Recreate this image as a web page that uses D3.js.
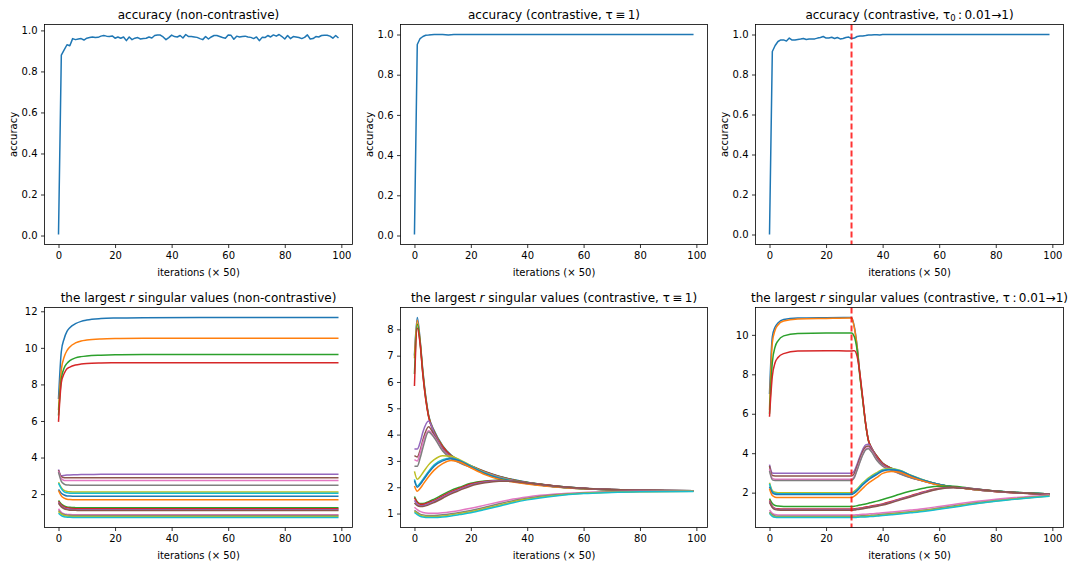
<!DOCTYPE html>
<html>
<head>
<meta charset="utf-8">
<script src="https://cdn.jsdelivr.net/npm/d3@7"></script>
<style>
body { margin:0; background:#fff; }
svg { font-family: "DejaVu Sans", sans-serif; }
</style>
</head>
<body>
<div class="container"></div>
<script>
var WIDTH = 1075, HEIGHT = 568;
var COLORS = ["#1f77b4","#ff7f0e","#2ca02c","#d62728","#9467bd","#8c564b","#e377c2","#7f7f7f","#bcbd22","#17becf"];
var COLS = [[44.5,352.5],[400.5,707.5],[755.5,1063.5]];
var ROWS = [[24.5,244.5],[307.5,527.5]];

// x ticks and y ticks
var xTicks = [0,20,40,60,80,100];
var accTicks = [0,0.2,0.4,0.6,0.8,1.0];
var svTicksNon = [2,4,6,8,10,12];
var svTicksTau1 = [1,2,3,4,5,6,7,8];
var svTicksRamp = [2,4,6,8,10];
var switchIteration = 29;

// accuracy curves, one value per logged iteration 0..99
var iterations = d3.range(100);
var accNonContrastive = [0.005,0.88,0.905,0.93,0.925,0.96,0.955,0.958,0.96,0.953,
  0.962,0.965,0.968,0.965,0.966,0.972,0.975,0.972,0.97,0.973,
  0.962,0.968,0.962,0.968,0.95,0.968,0.955,0.962,0.965,0.958,
  0.96,0.962,0.968,0.963,0.975,0.978,0.977,0.968,0.955,0.965,
  0.977,0.97,0.968,0.975,0.963,0.98,0.97,0.97,0.968,0.966,
  0.96,0.955,0.97,0.958,0.968,0.975,0.975,0.97,0.965,0.962,
  0.978,0.976,0.957,0.972,0.968,0.97,0.972,0.968,0.966,0.96,
  0.968,0.95,0.966,0.965,0.975,0.968,0.978,0.972,0.98,0.97,
  0.958,0.975,0.96,0.97,0.968,0.965,0.96,0.966,0.978,0.958,
  0.96,0.97,0.968,0.975,0.976,0.976,0.972,0.962,0.975,0.963];
var accTau1 = [0.005,0.95,0.98,0.99,0.996,0.997,0.999,1.0,1.0,1.0,
  1.0,0.999,0.997,0.999,1.0,1.0,1.0,1.0,1.0,1.0,
  1.0,1.0,1.0,1.0,1.0,1.0,1.0,1.0,1.0,1.0,
  1.0,1.0,1.0,1.0,1.0,1.0,1.0,1.0,1.0,1.0,
  1.0,1.0,1.0,1.0,1.0,1.0,1.0,1.0,1.0,1.0,
  1.0,1.0,1.0,1.0,1.0,1.0,1.0,1.0,1.0,1.0,
  1.0,1.0,1.0,1.0,1.0,1.0,1.0,1.0,1.0,1.0,
  1.0,1.0,1.0,1.0,1.0,1.0,1.0,1.0,1.0,1.0,
  1.0,1.0,1.0,1.0,1.0,1.0,1.0,1.0,1.0,1.0,
  1.0,1.0,1.0,1.0,1.0,1.0,1.0,1.0,1.0,1.0];
var accRamp = [0.0,0.915,0.945,0.965,0.973,0.973,0.967,0.982,0.972,0.972,
  0.975,0.977,0.98,0.975,0.977,0.978,0.978,0.982,0.985,0.99,
  0.982,0.983,0.986,0.98,0.985,0.978,0.98,0.985,0.987,0.98,
  0.982,0.99,0.992,0.993,0.995,0.998,0.998,0.999,0.999,0.998,
  1.0,1.0,1.0,1.0,1.0,1.0,1.0,1.0,1.0,1.0,
  1.0,1.0,1.0,1.0,1.0,1.0,1.0,1.0,1.0,1.0,
  1.0,1.0,1.0,1.0,1.0,1.0,1.0,1.0,1.0,1.0,
  1.0,1.0,1.0,1.0,1.0,1.0,1.0,1.0,1.0,1.0,
  1.0,1.0,1.0,1.0,1.0,1.0,1.0,1.0,1.0,1.0,
  1.0,1.0,1.0,1.0,1.0,1.0,1.0,1.0,1.0,1.0];

// singular values, read at selected iterations
var svNonIters = [0,1,2,3,4,6,8,10,15,20,30,50,99];
var svNon = [
  [7.2,9.8,10.5,10.9,11.1,11.32,11.45,11.52,11.6,11.63,11.65,11.66,11.66],
  [6.6,8.8,9.5,9.85,10.05,10.27,10.38,10.43,10.49,10.51,10.52,10.52,10.52],
  [6.3,8.3,8.9,9.15,9.3,9.45,9.52,9.56,9.6,9.62,9.63,9.63,9.63],
  [5.95,8.1,8.6,8.85,8.95,9.06,9.11,9.14,9.17,9.18,9.19,9.19,9.19],
  [3.35,3.0,3.02,3.04,3.05,3.06,3.07,3.07,3.08,3.08,3.08,3.08,3.08],
  [3.3,2.95,2.9,2.9,2.9,2.9,2.9,2.9,2.9,2.9,2.9,2.9,2.9],
  [3.25,2.85,2.75,2.74,2.74,2.74,2.74,2.74,2.74,2.74,2.74,2.74,2.74],
  [3.2,2.7,2.55,2.5,2.49,2.48,2.48,2.48,2.48,2.48,2.48,2.48,2.48],
  [2.65,2.35,2.2,2.15,2.13,2.12,2.12,2.12,2.12,2.12,2.12,2.12,2.12],
  [2.6,2.3,2.12,2.07,2.05,2.04,2.04,2.04,2.04,2.04,2.04,2.04,2.04],
  [2.25,2.05,1.95,1.9,1.89,1.88,1.88,1.88,1.88,1.88,1.88,1.88,1.88],
  [2.2,1.9,1.78,1.72,1.7,1.69,1.69,1.69,1.69,1.69,1.69,1.69,1.69],
  [1.65,1.45,1.35,1.3,1.28,1.26,1.25,1.25,1.25,1.25,1.25,1.25,1.25],
  [1.6,1.4,1.3,1.25,1.22,1.2,1.2,1.2,1.2,1.2,1.2,1.2,1.2],
  [1.55,1.35,1.25,1.2,1.17,1.15,1.15,1.15,1.15,1.15,1.15,1.15,1.15],
  [1.5,1.3,1.2,1.15,1.12,1.11,1.1,1.1,1.1,1.1,1.1,1.1,1.1],
  [1.2,1.0,0.92,0.89,0.88,0.87,0.87,0.87,0.87,0.87,0.87,0.87,0.87],
  [1.1,0.95,0.88,0.85,0.84,0.83,0.83,0.83,0.83,0.83,0.83,0.83,0.83],
  [1.05,0.9,0.83,0.8,0.79,0.78,0.78,0.78,0.78,0.78,0.78,0.78,0.78],
  [0.95,0.82,0.76,0.74,0.73,0.72,0.72,0.72,0.72,0.72,0.72,0.72,0.72]
];

var svTau1Iters = [0,1,2,3,5,7,10,13,16,20,25,30,35,40,50,60,70,80,99];
var svTau1 = [
  [7.0,8.45,7.6,6.4,4.75,4.15,3.58,3.22,3.02,2.82,2.6,2.42,2.29,2.19,2.05,1.96,1.91,1.89,1.87],
  [6.9,8.35,7.55,6.35,4.72,4.12,3.56,3.2,3.0,2.81,2.59,2.41,2.28,2.18,2.04,1.95,1.9,1.88,1.86],
  [6.3,8.2,7.5,6.3,4.7,4.1,3.55,3.2,3.0,2.8,2.58,2.41,2.28,2.18,2.04,1.95,1.9,1.88,1.86],
  [5.85,8.05,7.45,6.25,4.68,4.08,3.54,3.19,2.99,2.8,2.58,2.4,2.27,2.17,2.03,1.95,1.9,1.88,1.86],
  [3.45,3.45,3.7,4.1,4.52,4.05,3.46,3.15,2.97,2.78,2.56,2.39,2.26,2.16,2.02,1.95,1.9,1.88,1.86],
  [3.2,3.15,3.4,3.8,4.3,3.98,3.43,3.13,2.96,2.77,2.55,2.38,2.26,2.16,2.02,1.95,1.9,1.88,1.86],
  [3.05,3.0,3.3,3.7,4.15,3.92,3.4,3.11,2.94,2.76,2.55,2.38,2.25,2.16,2.02,1.95,1.9,1.88,1.86],
  [2.8,2.8,3.1,3.5,4.1,3.88,3.38,3.09,2.93,2.75,2.54,2.37,2.25,2.15,2.02,1.95,1.9,1.88,1.86],
  [2.6,2.3,2.4,2.55,2.85,3.05,3.2,3.18,3.05,2.82,2.55,2.36,2.24,2.15,2.02,1.94,1.9,1.88,1.86],
  [2.3,2.05,2.15,2.3,2.6,2.85,3.05,3.1,3.02,2.8,2.53,2.35,2.23,2.14,2.02,1.94,1.9,1.88,1.86],
  [2.25,2.0,2.1,2.25,2.55,2.8,3.0,3.08,3.0,2.78,2.52,2.34,2.22,2.14,2.02,1.94,1.9,1.88,1.86],
  [2.05,1.85,1.95,2.1,2.4,2.65,2.9,3.02,2.96,2.74,2.48,2.3,2.2,2.12,2.01,1.94,1.9,1.88,1.86],
  [1.65,1.45,1.38,1.38,1.45,1.55,1.72,1.88,2.0,2.15,2.24,2.27,2.24,2.18,2.05,1.96,1.91,1.89,1.87],
  [1.6,1.42,1.35,1.35,1.42,1.5,1.67,1.83,1.96,2.12,2.22,2.26,2.23,2.17,2.05,1.96,1.91,1.89,1.87],
  [1.5,1.35,1.3,1.3,1.37,1.46,1.62,1.79,1.92,2.09,2.2,2.25,2.23,2.17,2.04,1.96,1.91,1.89,1.87],
  [1.4,1.3,1.27,1.27,1.33,1.42,1.58,1.75,1.88,2.05,2.17,2.23,2.22,2.16,2.04,1.96,1.91,1.89,1.87],
  [1.24,1.15,1.08,1.04,1.01,1.01,1.03,1.07,1.12,1.2,1.32,1.44,1.55,1.63,1.74,1.8,1.83,1.85,1.86],
  [1.12,1.04,0.98,0.95,0.93,0.93,0.95,0.99,1.04,1.12,1.24,1.37,1.49,1.58,1.71,1.78,1.82,1.84,1.85],
  [1.08,1.0,0.94,0.91,0.89,0.89,0.91,0.95,1.0,1.07,1.19,1.32,1.45,1.55,1.69,1.77,1.81,1.83,1.85],
  [1.04,0.96,0.9,0.87,0.85,0.85,0.87,0.91,0.96,1.03,1.15,1.28,1.41,1.52,1.67,1.76,1.8,1.83,1.84]
];

var svRampIters = [0,1,2,3,5,10,20,29,30,31,32,33,34,35,36,38,40,43,46,50,55,60,65,70,80,99];
var svRamp = [
  [7.0,9.9,10.4,10.6,10.78,10.85,10.87,10.88,10.4,9.4,7.95,6.7,5.5,4.65,4.3,3.85,3.5,3.25,3.05,2.8,2.6,2.42,2.3,2.22,2.08,1.93],
  [6.2,9.6,10.25,10.5,10.7,10.8,10.83,10.85,10.35,9.35,7.9,6.68,5.48,4.63,4.28,3.84,3.49,3.24,3.04,2.79,2.59,2.41,2.29,2.21,2.07,1.93],
  [6.0,8.6,9.4,9.7,9.95,10.07,10.1,10.1,9.9,9.2,7.85,6.65,5.46,4.62,4.27,3.83,3.48,3.23,3.03,2.79,2.59,2.41,2.29,2.21,2.07,1.93],
  [5.85,7.9,8.6,8.85,9.05,9.18,9.2,9.18,9.2,8.9,8.0,6.75,5.5,4.64,4.28,3.83,3.48,3.23,3.03,2.78,2.58,2.4,2.28,2.2,2.06,1.92],
  [3.42,3.0,2.98,2.98,2.98,2.98,2.98,2.98,3.1,3.45,3.85,4.2,4.42,4.45,4.25,3.75,3.42,3.18,2.99,2.78,2.58,2.4,2.28,2.2,2.06,1.92],
  [3.35,2.87,2.85,2.85,2.85,2.85,2.85,2.85,2.98,3.35,3.75,4.1,4.32,4.37,4.2,3.72,3.4,3.17,2.98,2.77,2.57,2.4,2.28,2.2,2.06,1.92],
  [3.2,2.72,2.68,2.68,2.68,2.68,2.68,2.68,2.82,3.2,3.6,3.97,4.22,4.27,4.12,3.66,3.36,3.15,2.97,2.76,2.57,2.39,2.28,2.2,2.06,1.92],
  [3.1,2.65,2.62,2.62,2.62,2.62,2.62,2.62,2.76,3.15,3.55,3.92,4.17,4.22,4.08,3.63,3.34,3.14,2.96,2.75,2.56,2.39,2.28,2.2,2.06,1.92],
  [2.5,2.1,2.02,2.0,2.0,2.0,2.0,2.0,2.08,2.2,2.35,2.5,2.63,2.75,2.85,3.02,3.18,3.22,3.14,2.88,2.62,2.42,2.29,2.21,2.07,1.93],
  [2.45,2.05,1.97,1.95,1.95,1.95,1.95,1.95,2.03,2.15,2.3,2.45,2.58,2.7,2.8,2.97,3.14,3.19,3.12,2.87,2.61,2.42,2.29,2.21,2.07,1.93],
  [2.3,2.0,1.92,1.9,1.9,1.9,1.9,1.9,1.98,2.1,2.25,2.4,2.53,2.65,2.75,2.93,3.1,3.16,3.1,2.86,2.6,2.41,2.29,2.21,2.07,1.93],
  [2.2,1.85,1.77,1.75,1.75,1.75,1.75,1.75,1.82,1.94,2.08,2.22,2.36,2.48,2.58,2.77,2.98,3.07,3.03,2.8,2.56,2.38,2.27,2.2,2.06,1.92],
  [1.7,1.45,1.35,1.32,1.3,1.3,1.3,1.3,1.31,1.34,1.37,1.4,1.43,1.46,1.5,1.57,1.65,1.78,1.92,2.08,2.24,2.33,2.32,2.24,2.08,1.93],
  [1.6,1.3,1.2,1.18,1.17,1.17,1.17,1.17,1.18,1.2,1.22,1.24,1.27,1.29,1.32,1.37,1.43,1.55,1.68,1.85,2.06,2.22,2.27,2.22,2.07,1.92],
  [1.55,1.27,1.17,1.15,1.14,1.14,1.14,1.14,1.15,1.17,1.19,1.21,1.24,1.26,1.29,1.34,1.4,1.52,1.65,1.82,2.03,2.2,2.26,2.22,2.07,1.92],
  [1.5,1.24,1.14,1.12,1.11,1.11,1.11,1.11,1.12,1.14,1.16,1.18,1.21,1.23,1.26,1.31,1.37,1.49,1.62,1.79,2.0,2.18,2.25,2.21,2.07,1.92],
  [1.12,0.95,0.89,0.87,0.87,0.87,0.87,0.87,0.87,0.88,0.89,0.9,0.91,0.92,0.93,0.95,0.98,1.02,1.06,1.12,1.2,1.3,1.4,1.5,1.66,1.88],
  [1.02,0.88,0.82,0.8,0.8,0.8,0.8,0.8,0.8,0.81,0.82,0.83,0.83,0.84,0.85,0.87,0.9,0.94,0.98,1.04,1.12,1.22,1.32,1.43,1.6,1.84],
  [0.98,0.83,0.78,0.77,0.77,0.77,0.77,0.77,0.77,0.78,0.79,0.79,0.8,0.81,0.82,0.84,0.87,0.91,0.95,1.01,1.09,1.19,1.29,1.4,1.58,1.83],
  [0.95,0.8,0.75,0.74,0.74,0.74,0.74,0.74,0.74,0.75,0.76,0.76,0.77,0.78,0.79,0.81,0.84,0.88,0.92,0.98,1.06,1.16,1.26,1.37,1.56,1.82]
];

var svg;

var createContainer = function(){
	svg = d3.select(".container").append("svg")
		.attr("width", WIDTH)
		.attr("height", HEIGHT);
}

// title parts: plain text, italic math letter, or subscript
var writeTitle = function(g, x, y, parts){
	var text = g.append("text")
		.attr("x", x)
		.attr("y", y)
		.attr("text-anchor", "middle")
		.attr("font-size", 12)
		.attr("fill", "#000");
	var shifted = false;
	parts.forEach(function(p){
		var ts = text.append("tspan").text(p.t);
		if (p.s == "i") ts.attr("font-style", "italic");
		if (p.s == "sub") {
			ts.attr("dy", 2.5).attr("font-size", 8.5);
			shifted = true;
		} else if (shifted) {
			ts.attr("dy", -2.5);
			shifted = false;
		}
	});
}

var drawPanel = function(p){
	var x0 = COLS[p.col][0], x1 = COLS[p.col][1];
	var y0 = ROWS[p.row][0], y1 = ROWS[p.row][1];
	var all = d3.merge(p.series);
	var lo = d3.min(all), hi = d3.max(all);
	var pad = (hi - lo) * 0.05;
	var xlo = d3.min(p.iters), xhi = d3.max(p.iters);
	var xpad = (xhi - xlo) * 0.05;

	var x = d3.scaleLinear().domain([xlo - xpad, xhi + xpad]).range([x0, x1]);
	var y = d3.scaleLinear().domain([lo - pad, hi + pad]).range([y1, y0]);

	var g = svg.append("g");

	var line = d3.line()
		.x(function(d){ return x(d[0]); })
		.y(function(d){ return y(d[1]); })
		.curve(p.smooth ? d3.curveMonotoneX : d3.curveLinear);

	p.series.forEach(function(s, i){
		g.append("path")
			.datum(s.map(function(v, k){ return [p.iters[k], v]; }))
			.attr("d", line)
			.attr("fill", "none")
			.attr("stroke", COLORS[i % 10])
			.attr("stroke-width", 1.5)
			.attr("stroke-linejoin", "round");
	});

	if (p.marker) {
		g.append("line")
			.attr("x1", x(switchIteration)).attr("x2", x(switchIteration))
			.attr("y1", y0).attr("y2", y1)
			.attr("stroke", "#ff0000")
			.attr("stroke-opacity", 0.8)
			.attr("stroke-width", 2)
			.attr("stroke-dasharray", "6,3");
	}

	var xAxis = g.append("g")
		.attr("transform", "translate(0," + y1 + ")")
		.call(d3.axisBottom(x).tickValues(xTicks).tickSize(3.5).tickPadding(3.5).tickSizeOuter(0));
	var yAxis = g.append("g")
		.attr("transform", "translate(" + x0 + ",0)")
		.call(d3.axisLeft(y).tickValues(p.yTicks).tickFormat(p.fmt).tickSize(3.5).tickPadding(3.5).tickSizeOuter(0));
	[xAxis, yAxis].forEach(function(a){
		a.select(".domain").remove();
		a.selectAll("text").attr("font-size", 10).attr("fill", "#000").attr("font-family", "DejaVu Sans");
		a.selectAll("line").attr("stroke", "#000").attr("stroke-width", 0.8);
	});

	g.append("rect")
		.attr("x", x0).attr("y", y0)
		.attr("width", x1 - x0).attr("height", y1 - y0)
		.attr("fill", "none")
		.attr("stroke", "#000")
		.attr("stroke-width", 0.8);

	writeTitle(g, (x0 + x1) / 2, y0 - 6, p.title);

	g.append("text")
		.attr("x", (x0 + x1) / 2)
		.attr("y", y1 + 31)
		.attr("text-anchor", "middle")
		.attr("font-size", 10)
		.text("iterations (\u00d7 50)");

	if (p.ylabel) {
		g.append("text")
			.attr("transform", "translate(" + (x0 - 28) + "," + ((y0 + y1) / 2) + ") rotate(-90)")
			.attr("text-anchor", "middle")
			.attr("font-size", 10)
			.text(p.ylabel);
	}
}

var loadChart = function(){
	createContainer();
	var acc = d3.format(".1f"), whole = d3.format("d");
	var panels = [
		{col:0,row:0,iters:iterations,series:[accNonContrastive],yTicks:accTicks,fmt:acc,ylabel:"accuracy",
			title:[{t:"accuracy (non-contrastive)"}]},
		{col:1,row:0,iters:iterations,series:[accTau1],yTicks:accTicks,fmt:acc,ylabel:"accuracy",
			title:[{t:"accuracy (contrastive, \u03c4\u2009\u2261\u20091)"}]},
		{col:2,row:0,iters:iterations,series:[accRamp],yTicks:accTicks,fmt:acc,ylabel:"accuracy",marker:true,
			title:[{t:"accuracy (contrastive, \u03c4"},{t:"0",s:"sub"},{t:"\u2009:\u20090.01\u21921)"}]},
		{col:0,row:1,iters:svNonIters,series:svNon,yTicks:svTicksNon,fmt:whole,smooth:true,
			title:[{t:"the largest "},{t:"r",s:"i"},{t:" singular values (non-contrastive)"}]},
		{col:1,row:1,iters:svTau1Iters,series:svTau1,yTicks:svTicksTau1,fmt:whole,smooth:true,
			title:[{t:"the largest "},{t:"r",s:"i"},{t:" singular values (contrastive, \u03c4\u2009\u2261\u20091)"}]},
		{col:2,row:1,iters:svRampIters,series:svRamp,yTicks:svTicksRamp,fmt:whole,smooth:true,marker:true,
			title:[{t:"the largest "},{t:"r",s:"i"},{t:" singular values (contrastive, \u03c4\u2009:\u20090.01\u21921)"}]}
	];
	panels.forEach(drawPanel);
}

window.onload = loadChart;
</script>
</body>
</html>
